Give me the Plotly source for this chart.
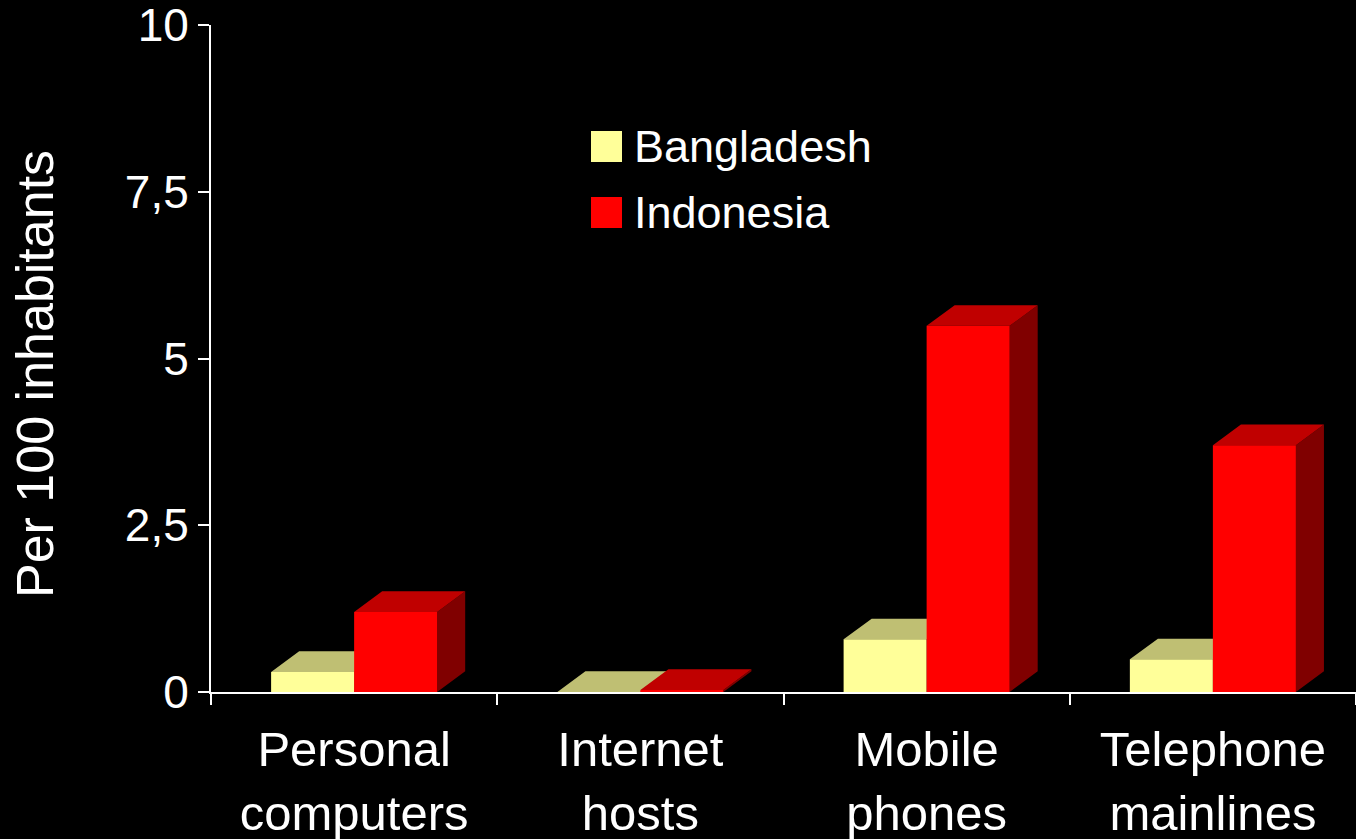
import plotly.graph_objects as go

categories = ["Personal<br>computers", "Internet<br>hosts", "Mobile<br>phones", "Telephone<br>mainlines"]
bangladesh = [0.30, 0.00, 0.79, 0.49]
indonesia = [1.20, 0.03, 5.49, 3.70]
y_tickvals = [0, 2.5, 5, 7.5, 10]
y_ticktext = ["0", "2,5", "5", "7,5", "10"]
y_title = "Per 100 inhabitants"

FONT = "Arial, Liberation Sans, sans-serif"
W = 0.29      # bar width (category units)
DX = 0.098    # depth offset x (category units)
DY = 0.31     # depth offset y (data units)

series = [
    ("Bangladesh", bangladesh, -1, "#FFFF99", "#BFBF73", "#80804D"),
    ("Indonesia", indonesia, 0, "#FF0000", "#C00000", "#800000"),
]

fig = go.Figure()
for name, vals, off, c_front, c_top, c_side in series:
    fx, fy, tx, ty, sx, sy = [], [], [], [], [], []
    for i, v in enumerate(vals):
        l = i + off * W
        r = l + W
        sx += [r, r + DX, r + DX, r, r, None]
        sy += [0, DY, v + DY, v, 0, None]
        tx += [l, r, r + DX, l + DX, l, None]
        ty += [v, v, v + DY, v + DY, v, None]
        fx += [l, r, r, l, l, None]
        fy += [0, 0, v, v, 0, None]
    for xs, ys, col in [(sx, sy, c_side), (tx, ty, c_top), (fx, fy, c_front)]:
        fig.add_trace(go.Scatter(x=xs, y=ys, mode="lines", fill="toself",
                                 fillcolor=col, line=dict(width=0, color=col),
                                 hoverinfo="skip", showlegend=False, name=name))

# helpers converting page pixels to paper coordinates (plot area 211..1356 x 25..692)
def px_x(p):
    return (p - 211) / 1145
def px_y(p):
    return (692 - p) / 667

# legend (drawn manually to get large swatches)
leg = [("Bangladesh", "#FFFF99", 131), ("Indonesia", "#FF0000", 197)]
for txt, col, top in leg:
    fig.add_shape(type="rect", xref="paper", yref="paper",
                  x0=px_x(591), x1=px_x(622), y0=px_y(top + 31), y1=px_y(top),
                  fillcolor=col, line=dict(width=0))
    fig.add_annotation(text=txt, xref="paper", yref="paper", x=px_x(632), y=px_y(top + 15.5),
                       xanchor="left", yanchor="middle", showarrow=False,
                       font=dict(family=FONT, size=45, color="white"))

# y-axis title
fig.add_annotation(text=y_title, xref="paper", yref="paper", x=px_x(35), y=px_y(374),
                   xanchor="center", yanchor="middle", textangle=-90, showarrow=False,
                   font=dict(family=FONT, size=52, color="white"))

fig.update_layout(
    width=1356, height=839,
    margin=dict(l=211, r=0, t=25, b=147, autoexpand=False),
    paper_bgcolor="black", plot_bgcolor="black",
    font=dict(family=FONT, color="white"),
    showlegend=False,
    xaxis=dict(range=[-0.5, 3.5], showgrid=False, zeroline=False,
               showline=True, linecolor="white", linewidth=2,
               tickmode="array", tickvals=[0, 1, 2, 3], ticktext=categories,
               ticks="", ticklabelstandoff=13, ticklabeloverflow="allow",
               tickfont=dict(family=FONT, size=49, color="white"),
               minor=dict(tickmode="array", tickvals=[-0.5, 0.5, 1.5, 2.5, 3.5],
                          ticks="outside", ticklen=11, tickwidth=2, tickcolor="white"),
               automargin=False, fixedrange=True),
    yaxis=dict(range=[0, 10], showgrid=False, zeroline=False,
               showline=True, linecolor="white", linewidth=2,
               tickmode="array", tickvals=y_tickvals, ticktext=y_ticktext,
               ticks="outside", ticklen=11, tickwidth=2, tickcolor="white",
               ticklabeloverflow="allow",
               tickfont=dict(family=FONT, size=46, color="white"),
               automargin=False, fixedrange=True),
)

fig.write_html("out.html", config={"displayModeBar": False},
               post_script="document.body.style.margin='0';document.body.style.background='black';")
